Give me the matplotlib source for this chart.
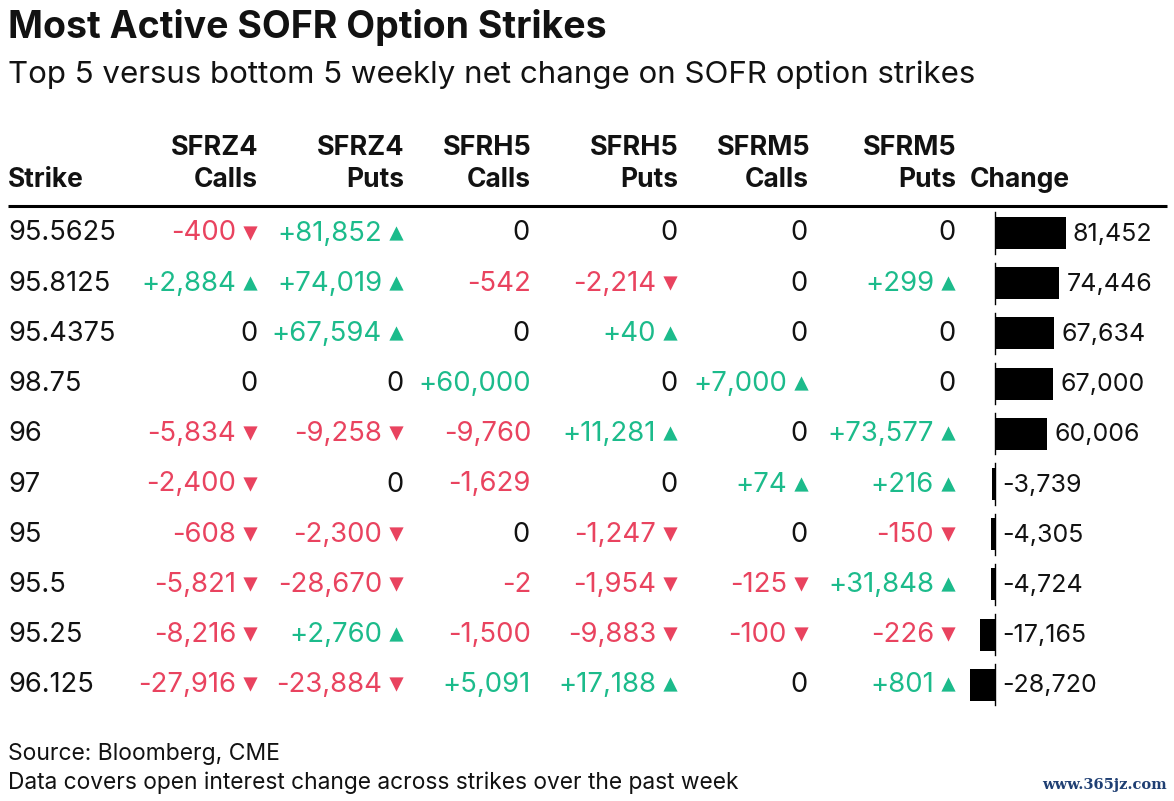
import matplotlib
matplotlib.use('Agg')
import matplotlib.pyplot as plt

plt.rcParams['font.family'] = ['Inter', 'Liberation Sans', 'DejaVu Sans']

strikes = ['95.5625', '95.8125', '95.4375', '98.75', '96', '97', '95', '95.5', '95.25', '96.125']
z4_calls = [-400, 2884, 0, 0, -5834, -2400, -608, -5821, -8216, -27916]
z4_puts = [81852, 74019, 67594, 0, -9258, 0, -2300, -28670, 2760, -23884]
h5_calls = [0, -542, 0, 60000, -9760, -1629, 0, -2, -1500, 5091]
h5_puts = [0, -2214, 40, 0, 11281, 0, -1247, -1954, -9883, 17188]
m5_calls = [0, 0, 0, 7000, 0, 74, 0, -125, -100, 0]
m5_puts = [0, 299, 0, 0, 73577, 216, -150, 31848, -226, 801]
change = [81452, 74446, 67634, 67000, 60006, -3739, -4305, -4724, -17165, -28720]

headers = ['SFRZ4\nCalls', 'SFRZ4\nPuts', 'SFRH5\nCalls', 'SFRH5\nPuts', 'SFRM5\nCalls', 'SFRM5\nPuts']
columns = [z4_calls, z4_puts, h5_calls, h5_puts, m5_calls, m5_puts]
col_right = [257, 403, 530, 677, 808, 955]
has_arrow = [True, True, False, True, True, True]

RED = '#e9435f'
GREEN = '#1cbb8b'
INK = '#121212'
W, H = 1174, 801
ROW0, ROW_STEP = 231.5, 50.2
BAR0 = 233

fig = plt.figure(figsize=(W / 100, H / 100), dpi=100)
ax = fig.add_axes([0, 0, 1, 1])
ax.set_xlim(0, W)
ax.set_ylim(H, 0)
ax.axis('off')

ax.text(8, 27, 'Most Active SOFR Option Strikes', fontsize=27, fontweight='bold', color=INK, va='center')
ax.text(8, 75, 'Top 5 versus bottom 5 weekly net change on SOFR option strikes', fontsize=22.5, color=INK, va='center')

# header row
ax.text(8, 180, 'Strike', fontsize=19, fontweight='bold', color=INK, va='center')
for x, head in zip(col_right, headers):
    top, bottom = head.split('\n')
    ax.text(x + 2, 148, top, fontsize=19.5, fontweight='bold', color=INK, va='center', ha='right')
    ax.text(x + 1, 180, bottom, fontsize=19, fontweight='bold', color=INK, va='center', ha='right')
ax.text(970, 180, 'Change', fontsize=19, fontweight='bold', color=INK, va='center')
ax.plot([8, 1167], [206, 206], color='black', lw=2.2, solid_capstyle='butt')

# table body
for i, strike in enumerate(strikes):
    y = ROW0 + i * ROW_STEP
    ax.text(8, y + 2, strike, fontsize=19.6, color=INK, va='center')
    for col, x, arrow in zip(columns, col_right, has_arrow):
        v = col[i]
        if v == 0:
            ax.text(x, y + 2, '0', fontsize=19.6, color=INK, va='center', ha='right')
            continue
        c = GREEN if v > 0 else RED
        tx = x - 21 if arrow else x + 1
        ax.text(tx, y + 2, f'{v:+,}', fontsize=19.8, color=c, va='center', ha='right')
        if arrow:
            ax.scatter([x - 7], [y + 1], marker='^' if v > 0 else 'v', s=105, color=c, linewidths=0)

# footer
ax.text(8, 754, 'Source: Bloomberg, CME', fontsize=16.5, color=INK, va='center')
ax.text(8, 783, 'Data covers open interest change across strikes over the past week', fontsize=16.4, color=INK, va='center')
ax.text(1167, 785, 'www.365jz.com', fontsize=10.5, fontweight='bold', color='#1f3f73', family='DejaVu Serif', va='center', ha='right')

# change bars, same rows as the table
bx = fig.add_axes([0, 0, 1, 1], facecolor='none')
px_per_unit = 70.5 / 81452
zero_px = 995
bx.set_xlim(-zero_px / px_per_unit, (W - zero_px) / px_per_unit)
bx.set_ylim((H - BAR0) / ROW_STEP, -BAR0 / ROW_STEP)
bx.axis('off')
rows = range(len(change))
bx.barh(rows, change, height=0.64, color='black')
for i, v in zip(rows, change):
    bx.plot([0, 0], [i - 0.41, i + 0.41], color='black', lw=1)
    bx.annotate(f'{v:,}', (max(v, 0), i + 0.02), xytext=(5.4, 0), textcoords='offset points',
                fontsize=18, color=INK, va='center', ha='left')

fig.savefig('out.png', dpi=100)
